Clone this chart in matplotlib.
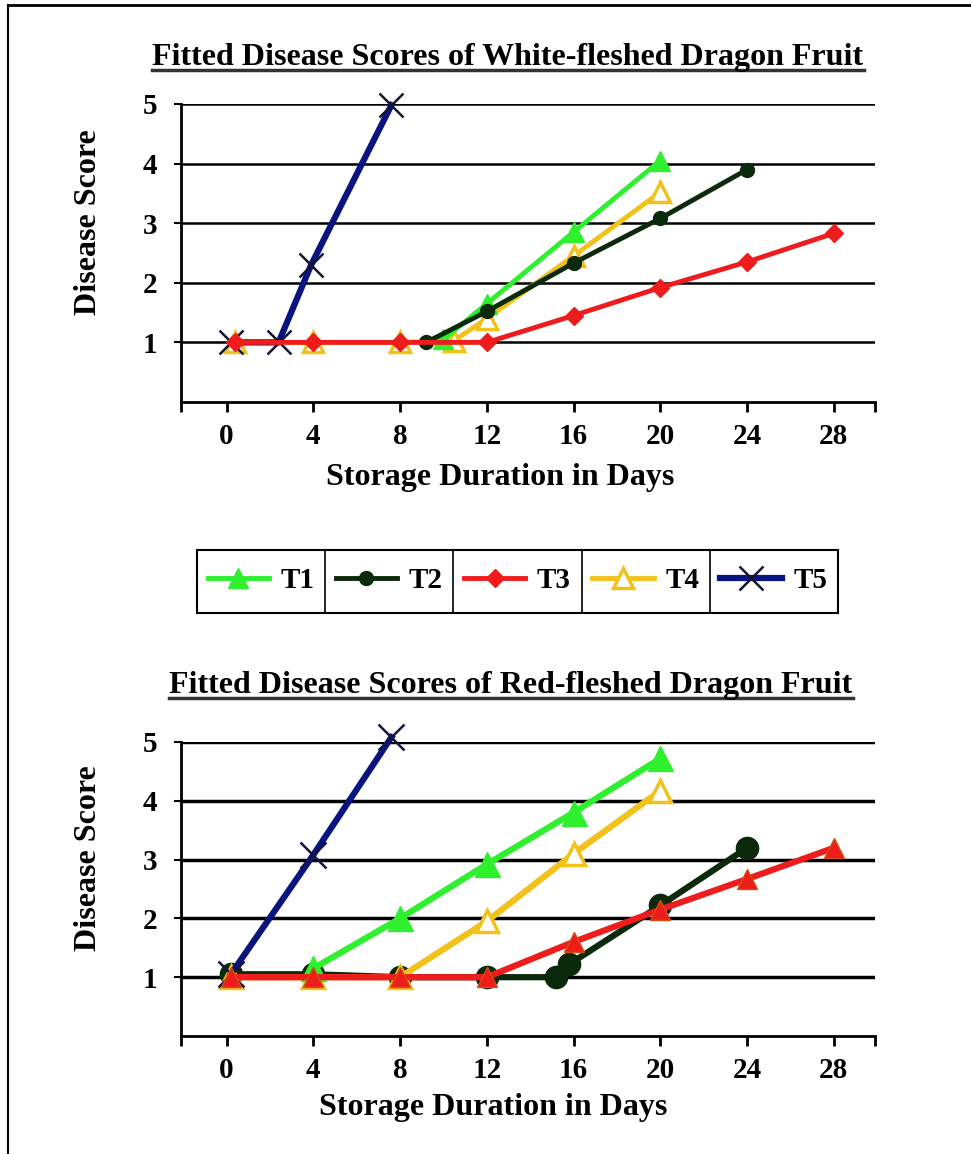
import matplotlib
matplotlib.use('Agg')
import matplotlib.pyplot as plt
from matplotlib.lines import Line2D
from matplotlib.patches import Rectangle

plt.rcParams['font.family'] = ['Liberation Serif', 'DejaVu Serif']
plt.rcParams['font.weight'] = 'bold'

# ---- data ----
treatments = ['T1', 'T2', 'T3', 'T4', 'T5']
x_ticks = [0, 4, 8, 12, 16, 20, 24, 28]
y_ticks = [1, 2, 3, 4, 5]

# white-fleshed
white_t1_x = [10, 12, 16, 20]
white_t1_y = [1.05, 1.65, 2.85, 4.05]
white_t2_x = [9.2, 12, 16, 20, 24]
white_t2_y = [1.0, 1.52, 2.33, 3.08, 3.9]
white_t3_x = [0.4, 4, 8, 12, 16, 20, 24, 28]
white_t3_y = [1, 1, 1, 1, 1.45, 1.92, 2.35, 2.83]
white_t4_x = [0.4, 4, 8, 10.5, 12, 16, 20]
white_t4_y = [1, 1, 1, 1.03, 1.4, 2.45, 3.52]
white_t5_x = [0.2, 2.4, 3.9, 7.6]
white_t5_y = [1.0, 1.0, 2.3, 4.98]

# red-fleshed
red_t1_x = [4, 8, 12, 16, 20]
red_t1_y = [1.15, 2.0, 2.92, 3.8, 4.72]
red_t2_x = [0.2, 4, 8, 12, 15.2, 15.8, 20, 24]
red_t2_y = [1.05, 1.05, 1.0, 1.0, 1.0, 1.22, 2.22, 3.2]
red_t3_x = [0.2, 4, 8, 12, 16, 20, 24, 28]
red_t3_y = [1, 1, 1, 1, 1.6, 2.15, 2.67, 3.2]
red_t4_x = [0.2, 4, 8, 12, 16, 20]
red_t4_y = [1, 1, 1, 1.95, 3.1, 4.17]
red_t5_x = [0.2, 4, 7.6]
red_t5_y = [1.05, 3.08, 5.08]

c_t1 = '#2ef02e'
c_t2 = '#0b2a0b'
c_t3 = '#ee1c1c'
c_t4 = '#f2c21a'
c_t5 = '#0a1480'

W, H = 971, 1154
fig = plt.figure(figsize=(W / 100, H / 100), dpi=100)


def style_axes(ax):
    ax.set_xlim(-2.1, 29.9)
    ax.set_ylim(0, 5)
    ax.set_xticks(x_ticks)
    ax.set_xticks([-2.1, 29.9], minor=True)
    ax.set_yticks(y_ticks)
    for s in ['top', 'right']:
        ax.spines[s].set_visible(False)
    for s in ['left', 'bottom']:
        ax.spines[s].set_linewidth(2)
    ax.yaxis.grid(True, color='black', linewidth=1.8)
    ax.set_axisbelow(True)
    ax.tick_params(axis='x', which='both', direction='out', length=7, width=2, pad=8, labelsize=21)
    ax.tick_params(axis='y', direction='out', length=5, width=1.5, pad=12, labelsize=21)
    ax.set_xlabel('Storage Duration in Days', fontsize=23, fontweight='bold')
    ax.set_ylabel('Disease Score', fontsize=23, fontweight='bold')


# top chart
ax1 = fig.add_axes([181 / W, 1 - 402 / H, 694 / W, 298 / H])
style_axes(ax1)
l4, = ax1.plot(white_t4_x, white_t4_y, color=c_t4, lw=3.5, marker='^', ms=15,
               mfc='white', mec=c_t4, mew=2.5, zorder=3, clip_on=False)
l1, = ax1.plot(white_t1_x, white_t1_y, color=c_t1, lw=3.5, marker='^', ms=15, zorder=4,
               clip_on=False)
l2, = ax1.plot(white_t2_x, white_t2_y, color=c_t2, lw=3.5, marker='o', ms=10, zorder=5,
               clip_on=False)
l5, = ax1.plot(white_t5_x, white_t5_y, color=c_t5, lw=4.5, marker='x', ms=17,
               mec='#151530', mew=1.8, zorder=6, clip_on=False)
l3, = ax1.plot(white_t3_x, white_t3_y, color=c_t3, lw=3.5, marker='D', ms=9, zorder=7,
               clip_on=False)
ax1.xaxis.set_label_coords(0.46, -0.205)
ax1.yaxis.set_label_coords(-0.112, 0.604)

# bottom chart
ax2 = fig.add_axes([181 / W, 1 - 1036 / H, 694 / W, 294 / H])
style_axes(ax2)
ax2.yaxis.grid(True, color='black', linewidth=2.5)
ax2.plot(red_t2_x, red_t2_y, color=c_t2, lw=4.5, marker='o', ms=16, zorder=3, clip_on=False)
ax2.plot(red_t4_x, red_t4_y, color=c_t4, lw=4.5, marker='^', ms=16,
         mfc='white', mec=c_t4, mew=2.5, zorder=4, clip_on=False)
ax2.plot(red_t1_x, red_t1_y, color=c_t1, lw=4.5, marker='^', ms=18, zorder=5, clip_on=False)
ax2.plot(red_t5_x, red_t5_y, color=c_t5, lw=4.5, marker='x', ms=19,
         mec='#151540', mew=1.8, zorder=6, clip_on=False)
ax2.plot(red_t3_x, red_t3_y, color=c_t3, lw=4.5, marker='^', ms=15,
         mec='#d05010', mew=1, zorder=7, clip_on=False)
ax2.xaxis.set_label_coords(0.45, -0.194)
ax2.yaxis.set_label_coords(-0.112, 0.605)

# titles (underlined)
t1 = fig.text(508 / W, 1 - 58 / H, 'Fitted Disease Scores of White-fleshed Dragon Fruit',
              ha='center', va='center', fontsize=23, fontweight='bold')
t2 = fig.text(511 / W, 1 - 686 / H, 'Fitted Disease Scores of Red-fleshed Dragon Fruit',
              ha='center', va='center', fontsize=23, fontweight='bold')

# legend as a row of boxed cells
handles = [l1, l2, l3, l4, l5]
lx0, lx1, ly0, ly1 = 197, 838, 550, 613
cell = (lx1 - lx0) / len(handles)
fig.patches.append(Rectangle((lx0 / W, 1 - ly1 / H), (lx1 - lx0) / W, (ly1 - ly0) / H,
                             transform=fig.transFigure, fill=False, edgecolor='black', lw=1.5))
for i, (h, name) in enumerate(zip(handles, treatments)):
    cx = (lx0 + cell * (i + 0.5)) / W
    fig.legend([h], [name], loc='center', bbox_to_anchor=(cx, 1 - 581 / H),
               frameon=False, fontsize=21, handlelength=2.1, handletextpad=0.4,
               borderpad=0)
    if i > 0:
        xs = (lx0 + cell * i) / W
        fig.lines.append(Line2D([xs, xs], [1 - ly1 / H, 1 - ly0 / H],
                                transform=fig.transFigure, color='black', lw=1.2))

# outer frame of the picture
fig.lines.append(Line2D([8 / W, 1], [1 - 5 / H, 1 - 5 / H], transform=fig.transFigure,
                        color='black', lw=2))
fig.lines.append(Line2D([8 / W, 8 / W], [0, 1 - 5 / H], transform=fig.transFigure,
                        color='black', lw=1.5))

fig.canvas.draw()
inv = fig.transFigure.inverted()
for t in (t1, t2):
    bb = t.get_window_extent().transformed(inv)
    yline = bb.y0 + 0.002
    fig.lines.append(Line2D([bb.x0, bb.x1], [yline, yline], transform=fig.transFigure,
                            color='#333333', lw=2.5))

fig.savefig('out.png', dpi=100, facecolor='white')
